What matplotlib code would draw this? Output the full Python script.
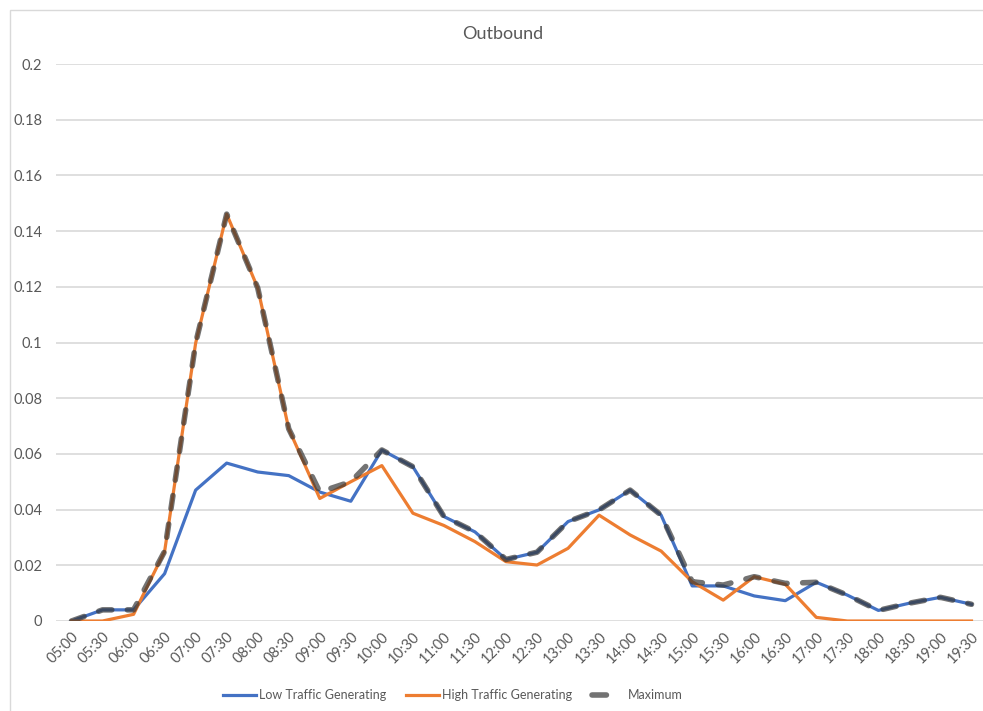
import matplotlib.pyplot as plt
from matplotlib.lines import Line2D
from matplotlib.patches import Rectangle

times = ['05:00', '05:30', '06:00', '06:30', '07:00', '07:30', '08:00', '08:30',
         '09:00', '09:30', '10:00', '10:30', '11:00', '11:30', '12:00', '12:30',
         '13:00', '13:30', '14:00', '14:30', '15:00', '15:30', '16:00', '16:30',
         '17:00', '17:30', '18:00', '18:30', '19:00', '19:30']

low_traffic = [0.0, 0.004, 0.004, 0.017, 0.047, 0.0567, 0.0535, 0.0522,
               0.0463, 0.043, 0.0614, 0.0554, 0.0375, 0.032, 0.0221, 0.0247,
               0.0357, 0.0399, 0.047, 0.038, 0.0126, 0.0126, 0.009, 0.0073,
               0.0139, 0.0093, 0.0038, 0.0064, 0.0085, 0.006]

high_traffic = [0.0, 0.0, 0.0024, 0.025, 0.0998, 0.1461, 0.1196, 0.069,
                0.044, 0.050, 0.0558, 0.0387, 0.0343, 0.0285, 0.0213, 0.0201,
                0.0261, 0.038, 0.0309, 0.0251, 0.0141, 0.0075, 0.0159, 0.0132,
                0.0013, 0.0, 0.0, 0.0, 0.0, 0.0]

maximum = [0.0, 0.004, 0.004, 0.025, 0.0998, 0.1461, 0.1196, 0.069,
           0.0463, 0.050, 0.0614, 0.0554, 0.0375, 0.032, 0.0221, 0.0247,
           0.0357, 0.0399, 0.047, 0.038, 0.0141, 0.0129, 0.0159, 0.0135,
           0.0139, 0.0093, 0.0038, 0.0064, 0.0085, 0.006]

plt.rcParams['font.family'] = ['Lato', 'DejaVu Sans']
text_col = '#595959'
blue = '#4472C4'
orange = '#ED7D31'
max_col = '#383838'

W, H = 983, 711
fig = plt.figure(figsize=(W / 100, H / 100), dpi=100)
ax = fig.add_axes([56 / W, 1 - 621 / H, (987 - 56) / W, (621 - 64) / H])

x = list(range(len(times)))
ax.plot(x, low_traffic, color=blue, lw=2.3, solid_joinstyle='round', zorder=3)
ax.plot(x, high_traffic, color=orange, lw=2.3, solid_joinstyle='round', zorder=4)
ax.plot(x, maximum, color=max_col, alpha=0.7, lw=4, linestyle=(0, (2.4, 2.8)),
        dash_capstyle='round', zorder=5)

ax.set_xlim(-0.5, len(times) - 0.5)
ax.set_ylim(0, 0.2)
ax.set_yticks([0, 0.02, 0.04, 0.06, 0.08, 0.1, 0.12, 0.14, 0.16, 0.18, 0.2])
ax.set_yticklabels(['0', '0.02', '0.04', '0.06', '0.08', '0.1', '0.12', '0.14',
                    '0.16', '0.18', '0.2'])
ax.set_xticks(x)
ax.set_xticklabels(times, rotation=45, ha='right', rotation_mode='anchor')
ax.tick_params(axis='both', length=0, colors=text_col, labelsize=10.5)
ax.tick_params(axis='y', pad=10)
ax.tick_params(axis='x', pad=6)
ax.grid(axis='y', color='#d9d9d9', lw=1.2)
ax.set_axisbelow(True)
for s in ax.spines.values():
    s.set_visible(False)

fig.text(503 / W, 1 - 34 / H, 'Outbound', ha='center', va='center',
         fontsize=13, color=text_col)

# chart border
fig.patches.append(Rectangle((10 / W, -0.1), 1.2, 1 - 10 / H + 0.1,
                             transform=fig.transFigure, fill=False,
                             edgecolor='#d9d9d9', lw=1))

handles = [Line2D([], [], color=blue, lw=2.3),
           Line2D([], [], color=orange, lw=2.3),
           Line2D([], [], color=max_col, alpha=0.7, lw=4,
                  linestyle=(0, (2.6, 10)), dash_capstyle='round')]
fig.legend(handles, ['Low Traffic Generating', 'High Traffic Generating', 'Maximum'],
           loc='center', bbox_to_anchor=(453 / W, 1 - 695 / H), ncol=3,
           frameon=False, fontsize=9, labelcolor=text_col,
           handlelength=2.6, handletextpad=0.25, columnspacing=1.6)

fig.savefig('out.png', dpi=100)
